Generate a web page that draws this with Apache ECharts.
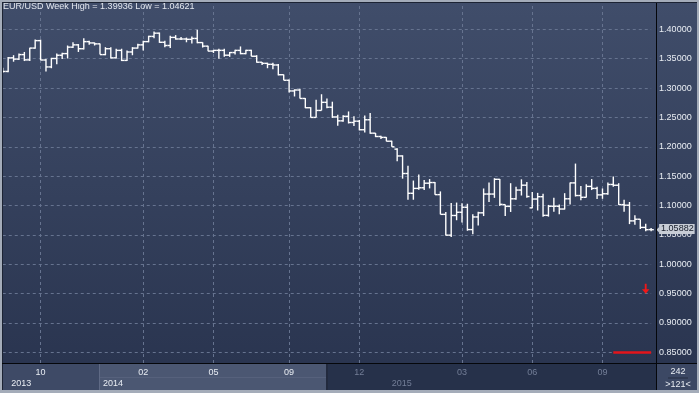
<!DOCTYPE html>
<html><head><meta charset="utf-8">
<script src="https://cdn.jsdelivr.net/npm/echarts@6/dist/echarts.min.js"></script>
<style>html,body{margin:0;padding:0;background:#a4acb9;overflow:hidden}#c{width:699px;height:393px}</style>
</head><body><div id="c"></div>
<script>
// ---- data (weekly OHLC) ----
const open = [1.3300,1.3283,1.3515,1.3493,1.3570,1.3480,1.3681,1.3808,1.3478,1.3360,
 1.3504,1.3559,1.3587,1.3697,1.3736,1.3670,1.3791,1.3769,1.3753,1.3570,
 1.3670,1.3515,1.3642,1.3471,1.3615,1.3681,1.3736,1.3791,1.3880,1.3935,
 1.3780,1.3725,1.3863,1.3836,1.3836,1.3830,1.3845,1.3775,1.3714,1.3630,
 1.3642,1.3642,1.3560,1.3605,1.3642,1.3587,1.3642,1.3542,1.3440,1.3421,
 1.3404,1.3393,1.3227,1.3133,1.2951,1.2967,1.2823,1.2665,1.2500,1.2619,
 1.2757,1.2674,1.2508,1.2442,1.2519,1.2414,1.2436,1.2290,1.2460,1.2232,
 1.2175,1.2160,1.2095,1.1960,1.1844,1.1545,1.1208,1.1291,1.1302,1.1380,
 1.1391,1.1185,1.0849,1.0495,1.0830,1.0885,1.0970,1.0590,1.0805,1.0875,
 1.1195,1.1195,1.1446,1.1015,1.0985,1.1114,1.1263,1.1346,1.0960,1.1110,
 1.1150,1.0832,1.0987,1.0987,1.0940,1.1114,1.1385,1.1170,1.1140,1.1325,
 1.1291,1.1181,1.1200,1.1358,1.1345,1.1015,1.1005,1.0738,1.0766,1.0627,
 1.0590];
const high = [1.3345,1.3530,1.3560,1.3590,1.3615,1.3685,1.3828,1.3825,1.3493,1.3515,
 1.3587,1.3603,1.3725,1.3780,1.3750,1.3847,1.3808,1.3775,1.3760,1.3697,
 1.3697,1.3670,1.3670,1.3642,1.3697,1.3753,1.3808,1.3891,1.3965,1.3946,
 1.3808,1.3891,1.3902,1.3870,1.3860,1.3880,1.39936,1.3780,1.3720,1.3650,
 1.3670,1.3670,1.3614,1.3653,1.3709,1.3653,1.3653,1.3560,1.3445,1.3432,
 1.3432,1.3410,1.3230,1.3144,1.2978,1.2989,1.2830,1.2674,1.2801,1.2895,
 1.2823,1.2768,1.2547,1.2536,1.2602,1.2519,1.2457,1.2532,1.2575,1.2235,
 1.2187,1.2165,1.2104,1.1975,1.1855,1.1678,1.1425,1.1530,1.1435,1.1450,
 1.1402,1.1240,1.0890,1.1043,1.1050,1.1040,1.1030,1.0850,1.0895,1.1290,
 1.1390,1.1465,1.1450,1.1015,1.1380,1.1320,1.1446,1.1400,1.1230,1.1215,
 1.1200,1.1010,1.1130,1.1015,1.1210,1.1391,1.1714,1.1330,1.1360,1.1450,
 1.1319,1.1290,1.1390,1.1495,1.1380,1.1100,1.1060,1.0835,1.0766,1.0690,
 1.0616];
const low = [1.3260,1.3270,1.3449,1.3476,1.3460,1.3460,1.3670,1.3476,1.3283,1.3338,
 1.3404,1.3493,1.3504,1.3681,1.3615,1.3659,1.3736,1.3725,1.3570,1.3559,
 1.3504,1.3504,1.3460,1.3460,1.3559,1.3675,1.3642,1.3780,1.3850,1.3770,
 1.3697,1.3681,1.3825,1.3820,1.3780,1.3760,1.3764,1.3690,1.3626,1.3598,
 1.3500,1.3532,1.3532,1.3570,1.3576,1.3576,1.3542,1.3432,1.3393,1.3338,
 1.3321,1.3216,1.3133,1.2923,1.2857,1.2823,1.2658,1.2497,1.2497,1.2619,
 1.2658,1.2492,1.2359,1.2425,1.2397,1.2353,1.2280,1.2245,1.2220,1.2165,
 1.2132,1.2093,1.1999,1.1755,1.1457,1.1098,1.1098,1.1270,1.1264,1.1291,
 1.1181,1.0849,1.0490,1.04621,1.0749,1.0711,1.0570,1.0510,1.0660,1.0820,
 1.1060,1.1130,1.0990,1.0820,1.0890,1.1100,1.1170,1.1130,1.0955,1.0915,
 1.0810,1.0810,1.0893,1.0850,1.0932,1.1015,1.1153,1.1090,1.1137,1.1263,
 1.1110,1.1114,1.1181,1.1319,1.1010,1.0893,1.0683,1.0672,1.0600,1.0561,
 1.0561];
const close = [1.3283,1.3515,1.3493,1.3570,1.3480,1.3681,1.3808,1.3478,1.3360,1.3504,
 1.3559,1.3587,1.3697,1.3736,1.3670,1.3791,1.3769,1.3753,1.3570,1.3670,
 1.3515,1.3642,1.3471,1.3615,1.3681,1.3736,1.3791,1.3880,1.3935,1.3780,
 1.3725,1.3863,1.3836,1.3836,1.3830,1.3845,1.3775,1.3714,1.3630,1.3642,
 1.3642,1.3560,1.3605,1.3642,1.3587,1.3642,1.3542,1.3440,1.3421,1.3404,
 1.3393,1.3227,1.3133,1.2951,1.2967,1.2823,1.2665,1.2500,1.2619,1.2757,
 1.2674,1.2508,1.2442,1.2519,1.2414,1.2436,1.2290,1.2460,1.2232,1.2175,
 1.2160,1.2095,1.2000,1.1844,1.1545,1.1208,1.1291,1.1302,1.1380,1.1391,
 1.1185,1.0849,1.0495,1.0830,1.0885,1.0970,1.0590,1.0805,1.0875,1.1195,
 1.1195,1.1446,1.1020,1.0985,1.1114,1.1263,1.1346,1.1153,1.1110,1.1150,
 1.0832,1.0987,1.0987,1.0940,1.1114,1.1385,1.1170,1.1140,1.1325,1.1291,
 1.1181,1.1200,1.1358,1.1345,1.1015,1.1005,1.0738,1.0766,1.0627,1.0588,
 1.05882];
const monthTickIdx = [7, 26, 39, 53, 66, 85, 98, 111];
const monthTickText = ['10', '02', '05', '09', '12', '03', '06', '09'];
const yearTickIdx = [1, 18, 72];
const yearTickText = ['2013', '2014', '2015'];
const lastPrice = 1.05882;
const arrowMark = [119, 0.958];
const redLine = [113, 120, 0.85];
const titleText = 'EUR/USD Week High = 1.39936 Low = 1.04621';
const counterText = ['242', '>121<'];

// ---- chart ----
const FONT = "'Liberation Sans', Arial, sans-serif";
const cats = close.map((_, i) => String(i));
const ohlc = close.map((c, i) => [i, open[i], high[i], low[i], c]);
const bright = '#e9edf3', dim = '#737e97';
const plotGrad = {type: 'linear', x: 0, y: 0, x2: 0, y2: 1,
  colorStops: [{offset: 0, color: '#404d6a'}, {offset: 1, color: '#2a3550'}]};
const gridLine = {show: true, lineStyle: {color: '#66738f', width: 1, type: [3, 3]}};

const chart = echarts.init(document.getElementById('c'), null, {renderer: 'canvas'});
chart.setOption({
  animation: false,
  backgroundColor: 'transparent',
  title: {text: titleText, left: 3, top: 2, padding: 0,
    textStyle: {fontSize: 9, fontWeight: 'normal', color: '#e4e8ef', fontFamily: FONT}},
  grid: {left: 2.75, right: 47.89, top: -10.03, bottom: 11.36, containLabel: false},
  xAxis: [
    {type: 'category', data: cats, boundaryGap: false,
      axisLine: {show: false}, axisTick: {show: false}, axisLabel: {show: false},
      splitLine: Object.assign({interval: (i) => monthTickIdx.indexOf(i) >= 0}, gridLine)},
    {type: 'category', data: cats, boundaryGap: false, position: 'bottom', z: 20,
      axisLine: {show: false}, axisTick: {show: false}, splitLine: {show: false},
      axisLabel: {interval: (i) => monthTickIdx.indexOf(i) >= 0, margin: -9.2, verticalAlign: 'middle',
        formatter: (v, i) => { const p = monthTickIdx.indexOf(i); return p < 0 ? '' : (p < 4 ? '{a|' : '{b|') + monthTickText[p] + '}'; },
        rich: {a: {color: bright, fontSize: 9, fontFamily: FONT}, b: {color: dim, fontSize: 9, fontFamily: FONT}}}},
    {type: 'category', data: cats, boundaryGap: false, position: 'bottom', z: 20,
      axisLine: {show: false}, axisTick: {show: false}, splitLine: {show: false},
      axisLabel: {interval: (i) => yearTickIdx.indexOf(i) >= 0, margin: 2.2, verticalAlign: 'middle', align: 'left',
        formatter: (v, i) => { const p = yearTickIdx.indexOf(i); return p < 0 ? '' : (p < 2 ? '{a|' : '{b|') + yearTickText[p] + '}'; },
        rich: {a: {color: bright, fontSize: 9, fontFamily: FONT, padding: [0, 0, 0, 3]}, b: {color: dim, fontSize: 9, fontFamily: FONT}}}}
  ],
  yAxis: {type: 'value', position: 'right', min: 0.80, max: 1.45, interval: 0.05,
    axisLine: {show: false}, axisTick: {show: false}, splitLine: gridLine,
    axisLabel: {margin: 8, color: bright, fontSize: 9, fontFamily: FONT,
      formatter: (v) => (v > 0.825 && v < 1.425) ? v.toFixed(5) : ''}},
  series: [{
    type: 'custom', xAxisIndex: 0, yAxisIndex: 0, data: ohlc,
    encode: {x: 0, y: [1, 2, 3, 4]},
    renderItem: function (params, api) {
      const i = api.value(0);
      const po = api.coord([i, api.value(1)]);
      const ph = api.coord([i, api.value(2)]);
      const pl = api.coord([i, api.value(3)]);
      const pc = api.coord([i, api.value(4)]);
      const w = api.size([1, 0])[0] * 0.5;
      const x = ph[0];
      const st = {stroke: '#ffffff', lineWidth: 1.4};
      return {type: 'group', children: [
        {type: 'line', shape: {x1: x, y1: ph[1], x2: x, y2: pl[1]}, style: st},
        {type: 'line', shape: {x1: x - w, y1: po[1], x2: x, y2: po[1]}, style: st},
        {type: 'line', shape: {x1: x, y1: pc[1], x2: x + w, y2: pc[1]}, style: st}
      ]};
    },
    markLine: {silent: true, symbol: ['none', 'none'], animation: false,
      data: [
        {yAxis: lastPrice, lineStyle: {color: 'rgba(0,0,0,0)', width: 0},
          label: {show: true, position: 'end', distance: 8, formatter: lastPrice.toFixed(5),
            backgroundColor: '#c8cdd6', color: '#141a28', padding: [1, 1, 0, 2],
            fontSize: 9, fontFamily: FONT, lineHeight: 9}},
        [{coord: [String(redLine[0]), redLine[2]], lineStyle: {color: '#e3151b', width: 2.5, type: 'solid'}, label: {show: false}},
         {coord: [String(redLine[1]), redLine[2]]}]
      ]},
    markPoint: {silent: true, animation: false,
      data: [
        {coord: [String(arrowMark[0]), arrowMark[1]],
          symbol: 'path://M3,0 L5,0 L5,5.5 L8,5.5 L4,10 L0,5.5 L3,5.5 Z', symbolSize: [7.5, 10],
          itemStyle: {color: '#f01818'}, label: {show: false}},
        {coord: [String(close.length - 1), lastPrice],
          symbol: 'path://M0,3 L3,0 L3,6 Z', symbolSize: [3, 6], symbolOffset: [6.8, 0],
          itemStyle: {color: '#c8cdd6'}, label: {show: false}}
      ]}
  }],
  graphic: {elements: [
    {type: 'rect', shape: {x: 0, y: 0, width: 699, height: 393}, style: {fill: '#a4acb9'}, z: -30},
    {type: 'rect', shape: {x: 2, y: 2, width: 695, height: 388}, style: {fill: '#1c2333'}, z: -29},
    {type: 'rect', shape: {x: 3, y: 3, width: 653, height: 360}, style: {fill: plotGrad}, z: -28},
    {type: 'rect', shape: {x: 657, y: 3, width: 40, height: 360}, style: {fill: plotGrad}, z: -28},
    {type: 'rect', shape: {x: 0, y: 0, width: 699, height: 2}, style: {fill: '#a4acb9'}, z: 10},
    {type: 'rect', shape: {x: 0, y: 0, width: 2, height: 393}, style: {fill: '#a4acb9'}, z: 10},
    {type: 'rect', shape: {x: 697, y: 0, width: 2, height: 393}, style: {fill: '#a4acb9'}, z: 10},
    {type: 'rect', shape: {x: 2, y: 2, width: 1, height: 388}, style: {fill: '#1c2333'}, z: 10},
    {type: 'rect', shape: {x: 2, y: 2, width: 695, height: 1}, style: {fill: '#1c2333'}, z: 10},
    {type: 'rect', shape: {x: 3, y: 364, width: 96, height: 26}, style: {fill: '#3e4a66'}, z: 10},
    {type: 'rect', shape: {x: 99, y: 364, width: 1, height: 26}, style: {fill: '#5f6a85'}, z: 10},
    {type: 'rect', shape: {x: 100, y: 364, width: 226, height: 26}, style: {fill: '#4b5772'}, z: 10},
    {type: 'rect', shape: {x: 100, y: 377, width: 226, height: 1}, style: {fill: '#56617c'}, z: 11},
    {type: 'rect', shape: {x: 326, y: 364, width: 2, height: 26}, style: {fill: '#222a3e'}, z: 10},
    {type: 'rect', shape: {x: 328, y: 364, width: 328, height: 26}, style: {fill: '#26314a'}, z: 10},
    {type: 'rect', shape: {x: 657, y: 364, width: 40, height: 26}, style: {fill: '#3c4864'}, z: 10},
    {type: 'rect', shape: {x: 668, y: 377.5, width: 20, height: 1}, style: {fill: '#252d41'}, z: 11},
    {type: 'rect', shape: {x: 0, y: 390, width: 699, height: 3}, style: {fill: '#a4acb9'}, z: 10},
    {type: 'rect', shape: {x: 2, y: 363, width: 695, height: 1}, style: {fill: '#05070b'}, z: 12},
    {type: 'rect', shape: {x: 656, y: 3, width: 1, height: 387}, style: {fill: '#05070b'}, z: 12},
    {type: 'text', x: 678, y: 372, z: 20, style: {text: counterText[0], fill: bright, fontSize: 9, fontFamily: FONT, align: 'center', verticalAlign: 'middle'}},
    {type: 'text', x: 678, y: 384.5, z: 20, style: {text: counterText[1], fill: bright, fontSize: 9, fontFamily: FONT, align: 'center', verticalAlign: 'middle'}}
  ]}
});
</script></body></html>
